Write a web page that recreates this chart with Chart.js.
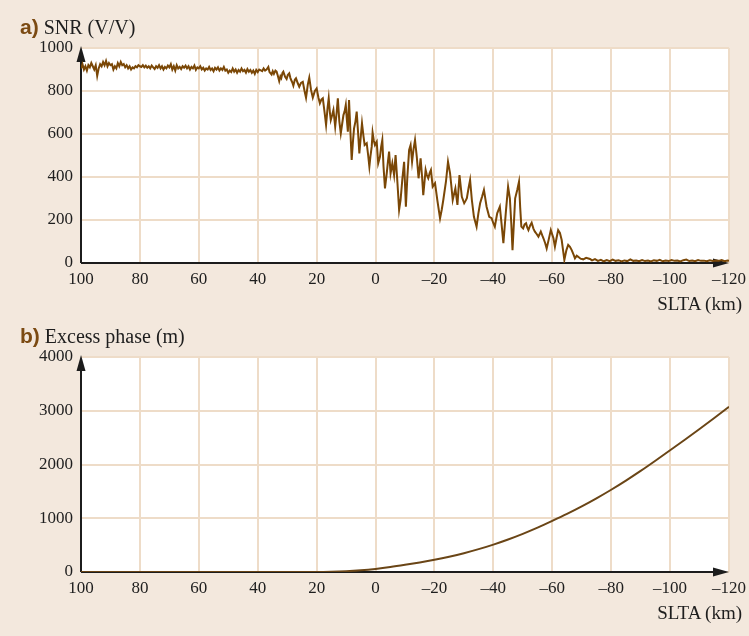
<!DOCTYPE html>
<html>
<head>
<meta charset="utf-8">
<script src="https://cdn.jsdelivr.net/npm/chart.js@4.4.0/dist/chart.umd.min.js"></script>
<style>
  html, body { margin: 0; padding: 0; background: #f3e8dd; }
  #wrap { position: relative; width: 749px; height: 636px; overflow: hidden; background: #f3e8dd; }
  #wrap canvas { position: absolute; left: 0; }
  .ttl { position: absolute; left: 20px; font: 20px "Liberation Serif", serif; color: #1e1e1e; white-space: nowrap; line-height: 20px; }
  .ttl b { font-family: "Liberation Sans Narrow", "Liberation Sans", sans-serif; color: #7b4a12; font-weight: bold; font-size: 21px; margin-right: 5px; }
  .xt { position: absolute; right: 7px; font: 19px "Liberation Serif", serif; color: #1e1e1e; line-height: 19px; white-space: nowrap; }
</style>
</head>
<body>
<div id="wrap">
  <canvas id="snr" width="749" height="318" style="top:0"></canvas>
  <canvas id="phase" width="749" height="318" style="top:318px"></canvas>
  <div class="ttl" style="top:17px"><b>a)</b>SNR (V/V)</div>
  <div class="xt" style="top:294px">SLTA (km)</div>
  <div class="ttl" style="top:326px"><b>b)</b>Excess phase (m)</div>
  <div class="xt" style="top:603px">SLTA (km)</div>
</div>
<script>
// Shared x axis: straight-line tangent altitude, km (plotted decreasing to the right)
const sltaTicks = [100, 80, 60, 40, 20, 0, -20, -40, -60, -80, -100, -120];
const snrTicks = [0, 200, 400, 600, 800, 1000];
const phaseTicks = [0, 1000, 2000, 3000, 4000];

// SNR (V/V): steady plateau above ~40 km
const snrPlateau = [
  [100,905],[99.5,925],[99,900],[98.5,915],[98,895],[97.5,920],[97,910],[96.5,930],[96,915],[95.5,900],
  [95,920],[94.5,870],[94,905],[93.5,925],[93,915],[92.5,935],[92,920],[91.5,940],[91,915],[90.5,930],
  [90,920],[89.5,925],[89,900],[88.5,915],[88,905],[87.5,930],[87,915],[86.5,935],[86,920],[85.5,925],
  [85,910],[84.5,920],[84,905],[83.5,915],[83,900],[82.5,910],[82,905],[81.5,915],[81,910],[80.5,920],
  [80,915],[79.5,912],[79,920],[78.5,910],[78,918],[77.5,908],[77,915],[76.5,905],[76,918],[75.5,910],
  [75,902],[74.5,915],[74,908],[73.5,920],[73,905],[72.5,915],[72,900],[71.5,912],[71,905],[70.5,918],
  [70,910],[69.5,925],[69,900],[68.5,915],[68,895],[67.5,920],[67,905],[66.5,912],[66,902],[65.5,915],
  [65,908],[64.5,918],[64,905],[63.5,915],[63,900],[62.5,912],[62,905],[61.5,918],[61,898],[60.5,910],
  [60,905],[59.5,915],[59,900],[58.5,908],[58,895],[57.5,905],[57,900],[56.5,912],[56,898],[55.5,905],
  [55,892],[54.5,908],[54,900],[53.5,910],[53,895],[52.5,905],[52,898],[51.5,912],[51,895],[50.5,900],
  [50,885],[49.5,895],[49,888],[48.5,905],[48,890],[47.5,900],[47,885],[46.5,898],[46,890],[45.5,905],
  [45,892],[44.5,898],[44,885],[43.5,902],[43,890],[42.5,898],[42,885],[41.5,895],[41,880],[40.5,898],
  [40,888],[39.5,900],[38.5,892],[38,905],[37.5,895],[37,900],[36.4,912],[36,888]
];

// SNR (V/V): fading, strongly fluctuating signal from ~36 km down to ~-70 km
const snrFade = [
  [35.3,877],[34.9,892],[34.5,880],[34,895],[33.6,890],[33.2,872],[32.7,846],[32.3,868],[32,860],[31.6,884],
  [31.3,890],[30.7,866],[30.2,856],[29.8,874],[29.3,882],[28.9,860],[28.6,850],[28.2,838],[27.9,825],[27.4,852],
  [27,859],[26.4,836],[25.9,820],[25.3,838],[24.7,843],[24.1,800],[23.6,769],[23,830],[22.5,862],[21.9,805],
  [21.3,769],[20.6,800],[20,812],[19.4,770],[18.9,743],[18.4,760],[17.9,766],[17.3,700],[16.8,642],[16.3,720],
  [15.9,766],[15.5,700],[15.2,665],[14.7,690],[14.3,712],[13.7,634],[13.2,700],[12.8,766],[12.3,660],[11.8,603],
  [11.3,650],[10.9,688],[10.5,705],[10.1,735],[9.7,660],[9.4,611],[9,758],[8.5,600],[8.1,479],[7.7,560],
  [7.3,626],[6.8,660],[6.4,704],[5.9,600],[5.5,510],[5,590],[4.6,650],[4.1,590],[3.7,549],[3,557],
  [2.5,500],[2.1,448],[1.7,500],[1.3,541],[1,606],[0.6,570],[0.2,549],[-0.4,564],[-0.9,464],[-1.5,494],
  [-1.9,540],[-2.3,572],[-2.7,450],[-3.2,347],[-3.8,417],[-4.2,470],[-4.6,518],[-5.1,417],[-5.7,464],[-6.3,409],
  [-6.8,502],[-7.4,380],[-8,247],[-8.5,293],[-9.1,390],[-9.7,471],[-10.3,262],[-10.8,400],[-11.4,526],[-11.9,549],
  [-12.4,471],[-12.9,530],[-13.4,572],[-14,494],[-14.6,394],[-15.3,487],[-15.8,400],[-16.2,316],[-17,433],[-17.4,410],
  [-17.9,394],[-18.4,420],[-18.8,433],[-19.4,355],[-20.2,371],[-21,290],[-21.9,208],[-22.5,250],[-23,293],[-23.9,378],
  [-24.6,471],[-25.3,417],[-25.8,350],[-26.2,293],[-27.1,347],[-27.8,270],[-28.5,409],[-29.3,308],[-30.1,278],[-30.6,290],
  [-31,301],[-31.6,350],[-32.1,386],[-32.7,293],[-33.4,215],[-34.3,169],[-34.9,230],[-35.5,278],[-36.2,310],[-36.8,340],
  [-37.7,262],[-38.6,215],[-39.4,208],[-40,185],[-40.5,169],[-41.3,231],[-42.2,262],[-42.8,180],[-43.4,92],[-44.3,247],
  [-45,355],[-45.6,301],[-46.1,180],[-46.5,60],[-47.4,301],[-48.1,340],[-48.7,378],[-49.1,260],[-49.5,169],[-50.1,161],
  [-50.6,180],[-51.1,185],[-51.5,165],[-51.9,153],[-52.5,175],[-53,187],[-53.6,160],[-54.1,146],[-54.7,135],[-55.3,122],
  [-56.1,146],[-56.6,128],[-57,115],[-57.6,92],[-58.1,68],[-58.8,110],[-59.5,153],[-60.4,115],[-60.9,76],[-61.5,120],
  [-62,153],[-62.6,140],[-63.2,107],[-63.7,55],[-64.1,14],[-64.8,60],[-65.4,84],[-66,75],[-66.6,60],[-67.2,40],
  [-67.7,22],[-68.3,34],[-68.8,29],[-69.6,20],[-70.5,17],[-71.5,24],[-72.8,19]
];

// SNR (V/V): residual noise floor below ~-73 km
const snrFloor = [
  [-73.5,12],[-74.5,18],[-75.5,10],[-76.5,15],[-77.5,8],[-78.5,14],[-79.5,9],[-80.5,16],[-81.5,10],[-82.5,13],
  [-83.5,7],[-84.5,12],[-85.5,9],[-86.5,17],[-87.5,10],[-88.5,12],[-89.5,8],[-90.5,14],[-91.5,9],[-92.5,11],
  [-93.5,7],[-94.5,13],[-95.5,10],[-96.5,15],[-97.5,8],[-98.5,12],[-99.5,9],[-100.5,14],[-101.5,10],[-102.5,11],
  [-103.5,7],[-104.5,13],[-105.5,16],[-106.5,9],[-107.5,12],[-108.5,8],[-109.5,14],[-110.5,10],[-111.5,11],[-112.5,8],
  [-113.5,13],[-114.5,9],[-115.5,12],[-116.5,10],[-117.5,14],[-118.5,8],[-119.5,12],[-120,10]
];

// Excess phase (m)
const phaseKm  = [100, 80, 60, 40, 25, 20, 15, 10, 5, 0, -5, -10, -15, -20, -25, -30, -35, -40, -45, -50,
                  -55, -60, -65, -70, -75, -80, -85, -90, -95, -100, -105, -110, -115, -120];
const phaseVal = [0, 0, 0, 0, 0, 0, 4, 14, 32, 58, 92, 133, 178, 228, 285, 350, 425, 510, 605, 710,
                  825, 950, 1080, 1220, 1370, 1530, 1700, 1880, 2070, 2265, 2460, 2660, 2865, 3075];

const GRID = '#eedcc8';
const AXIS = '#1c1c1c';
const TICK_FONT = { family: '"Liberation Serif", "Times New Roman", serif', size: 17 };

// white plot field plus arrowed axes
const plotFrame = {
  id: 'plotFrame',
  beforeDraw(chart) {
    const { ctx, chartArea: a } = chart;
    ctx.save();
    ctx.fillStyle = '#ffffff';
    ctx.fillRect(a.left, a.top, a.right - a.left, a.bottom - a.top);
    ctx.restore();
  },
  beforeDatasetsDraw(chart) {
    const { ctx, chartArea: a } = chart;
    ctx.save();
    ctx.strokeStyle = AXIS;
    ctx.fillStyle = AXIS;
    ctx.lineWidth = 2;
    ctx.beginPath();
    ctx.moveTo(a.left, a.bottom);
    ctx.lineTo(a.left, a.top + 6);
    ctx.moveTo(a.left, a.bottom);
    ctx.lineTo(a.right - 6, a.bottom);
    ctx.stroke();
    // up arrow
    ctx.beginPath();
    ctx.moveTo(a.left, a.top - 2);
    ctx.lineTo(a.left - 4.5, a.top + 14);
    ctx.lineTo(a.left + 4.5, a.top + 14);
    ctx.closePath();
    ctx.fill();
    // right arrow
    ctx.beginPath();
    ctx.moveTo(a.right, a.bottom);
    ctx.lineTo(a.right - 16, a.bottom - 4.5);
    ctx.lineTo(a.right - 16, a.bottom + 4.5);
    ctx.closePath();
    ctx.fill();
    ctx.restore();
  }
};

const kmLabel = v => (v < 0 ? '\u2013' + Math.abs(v) : String(v));

function makePanel(id, points, yTicks, yMax, lineColor, padTop, xAxisHeight, smooth) {
  return new Chart(document.getElementById(id), {
    type: 'line',
    data: {
      datasets: [{
        data: points.map(p => ({ x: p[0], y: p[1] })),
        borderColor: lineColor,
        borderWidth: 2,
        pointRadius: 0,
        tension: smooth ? 0.4 : 0,
        cubicInterpolationMode: smooth ? 'monotone' : 'default',
        fill: false
      }]
    },
    options: {
      responsive: false,
      animation: false,
      devicePixelRatio: 1,
      layout: { padding: { top: padTop, right: 20, left: 0, bottom: 0 } },
      plugins: { legend: { display: false }, tooltip: { enabled: false } },
      scales: {
        x: {
          type: 'linear',
          min: -120, max: 100,
          reverse: true,
          afterBuildTicks: s => { s.ticks = sltaTicks.map(v => ({ value: v })); },
          afterFit: s => { s.height = xAxisHeight; s.paddingLeft = 0; s.paddingRight = 0; },
          grid: { color: GRID, lineWidth: 2, drawTicks: false },
          border: { display: false },
          ticks: { color: '#1e1e1e', font: TICK_FONT, padding: 6, maxRotation: 0, autoSkip: false, callback: kmLabel }
        },
        y: {
          type: 'linear',
          min: 0, max: yMax,
          afterBuildTicks: s => { s.ticks = yTicks.map(v => ({ value: v })); },
          afterFit: s => { s.width = 81; s.paddingTop = 0; s.paddingBottom = 0; },
          grid: { color: GRID, lineWidth: 2, drawTicks: false },
          border: { display: false },
          ticks: { color: '#1e1e1e', font: TICK_FONT, padding: 8, callback: v => String(v) }
        }
      }
    },
    plugins: [plotFrame]
  });
}

makePanel('snr', snrPlateau.concat(snrFade, snrFloor), snrTicks, 1000, '#7a4706', 48, 55, false);
makePanel('phase', phaseKm.map((k, i) => [k, phaseVal[i]]), phaseTicks, 4000, '#6a4516', 39, 64, true);
</script>
</body>
</html>
